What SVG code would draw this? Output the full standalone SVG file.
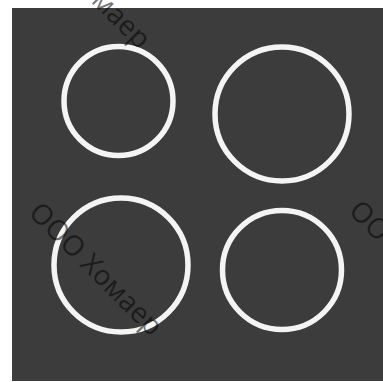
<svg xmlns="http://www.w3.org/2000/svg" width="383" height="382" viewBox="0 0 383 382">
  <style>
    .ring { fill: none; stroke: #f4f4f4; stroke-width: 5.5; }
    .wm { font-family: "Open Sans", "Noto Sans", "DejaVu Sans", sans-serif; font-size: 28px; fill: #000000; fill-opacity: 0.55; }
  </style>
  <rect x="0" y="0" width="383" height="382" fill="#ffffff"/>
  <rect id="panel" x="12" y="8" width="371" height="373" fill="#3c3c3c"/>
  <g id="circle1"><circle class="ring" cx="118.5" cy="101" r="54.5"/></g>
  <g id="circle2"><circle class="ring" cx="282" cy="114" r="67"/></g>
  <g id="circle3"><circle class="ring" cx="121" cy="265" r="67"/></g>
  <g id="circle4"><circle class="ring" cx="282" cy="270" r="59.5"/></g>
  <g id="watermarks">
    <text class="wm" transform="translate(15.6,-73) rotate(45)">ООО Хомаер</text>
    <text class="wm" transform="translate(27.6,214) rotate(45)">ООО Хомаер</text>
    <text class="wm" transform="translate(347.6,212) rotate(45)">ООО Хомаер</text>
  </g>
</svg>
